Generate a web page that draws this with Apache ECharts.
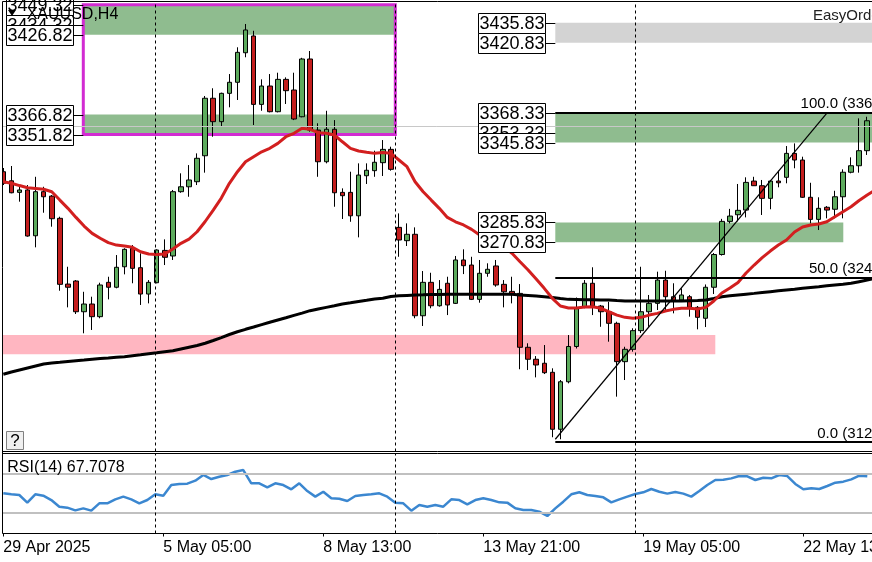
<!DOCTYPE html>
<html><head><meta charset="utf-8">
<script src="https://cdn.jsdelivr.net/npm/echarts@6/dist/echarts.min.js"></script>
<style>html,body{margin:0;padding:0;background:#fff;}#c{width:872px;height:562px;}</style>
</head><body><div id="c"></div>
<script>
// ---- data (XAUUSD H4) ----
const days = ['29 Apr','30 Apr','1 May','2 May','5 May','6 May','7 May','8 May','9 May','12 May','13 May','14 May','15 May','16 May','19 May','20 May','21 May','22 May','23 May'];
const hours = ['01:00','05:00','09:00','13:00','17:00','21:00'];
const tickIndex = [0,20,40,60,80,100];
const tickLabels = ['29 Apr 2025','5 May 05:00','8 May 13:00','13 May 21:00','19 May 05:00','22 May 13:00'];
const separators = [19,49,79];

const opens = [3323.9,3317.1,3308.4,3310.2,3275.8,3308.9,3305.6,3288.9,3239.5,3241.8,3218.7,3224.5,3215.0,3240.8,3237.1,3252.5,3266.4,3251.8,3232.0,3240.5,3264.8,3260.6,3308.9,3312.6,3316.4,3335.9,3379.1,3361.5,3382.8,3391.1,3413.3,3425.9,3374.5,3388.3,3369.0,3393.3,3385.3,3365.2,3408.6,3355.2,3331.4,3355.8,3308.4,3308.4,3290.8,3320.9,3324.7,3330.7,3340.7,3282.1,3272.1,3276.9,3215.7,3240.8,3223.2,3240.1,3225.0,3257.6,3253.8,3228.0,3247.6,3253.1,3239.3,3234.0,3232.5,3192.0,3183.0,3180.0,3173.2,3130.4,3166.1,3192.6,3221.9,3240.1,3223.0,3218.7,3210.0,3181.2,3190.5,3204.5,3218.7,3225.0,3242.5,3230.0,3227.5,3230.0,3222.0,3213.8,3237.1,3261.7,3286.6,3291.6,3295.1,3316.9,3313.4,3303.9,3316.9,3319.7,3337.7,3332.7,3304.7,3288.1,3297.2,3295.7,3305.1,3323.5,3328.4,3339.7,3362.2];
const highs = [3326.7,3328.2,3312.6,3313.9,3320.1,3312.6,3306.4,3290.1,3252.5,3242.5,3233.7,3230.0,3240.5,3245.0,3261.3,3266.4,3268.8,3262.6,3242.5,3265.6,3273.1,3310.2,3322.7,3328.9,3337.7,3380.8,3386.6,3383.3,3397.3,3417.4,3434.9,3429.8,3393.3,3397.3,3398.3,3394.8,3398.3,3409.5,3414.6,3360.3,3369.7,3362.7,3311.4,3323.9,3330.2,3330.2,3339.7,3347.7,3342.7,3292.6,3285.1,3282.1,3249.3,3248.0,3242.5,3245.0,3260.6,3265.6,3260.0,3257.6,3255.1,3257.6,3242.5,3245.0,3239.5,3195.0,3185.4,3193.7,3176.2,3167.4,3201.2,3229.4,3242.5,3252.1,3223.8,3226.2,3211.2,3192.4,3206.3,3252.5,3231.3,3248.8,3249.5,3240.1,3236.3,3231.3,3223.0,3239.2,3262.8,3288.5,3296.0,3314.7,3319.7,3320.1,3317.7,3317.7,3324.7,3343.2,3345.2,3335.2,3315.6,3304.7,3298.1,3309.6,3325.7,3334.7,3364.0,3365.2,3365.8];
const lows = [3313.9,3307.7,3301.4,3275.1,3267.1,3293.1,3282.6,3234.5,3222.0,3217.0,3202.5,3205.0,3213.8,3228.0,3236.3,3246.8,3240.1,3223.8,3225.0,3240.1,3253.8,3257.6,3308.1,3305.1,3313.9,3323.2,3350.2,3358.2,3372.3,3377.8,3409.9,3359.0,3369.7,3368.5,3368.5,3374.8,3362.7,3364.8,3354.0,3320.1,3330.2,3297.6,3288.4,3286.3,3274.6,3314.7,3320.1,3320.7,3324.7,3260.0,3268.1,3213.8,3208.0,3221.3,3222.5,3216.2,3224.5,3247.0,3227.5,3225.5,3245.0,3237.5,3222.0,3225.0,3175.5,3174.9,3169.4,3171.9,3124.4,3122.9,3164.9,3191.1,3221.3,3216.2,3207.4,3196.2,3154.9,3167.4,3188.7,3202.7,3207.4,3220.0,3220.0,3217.5,3226.2,3215.0,3205.5,3207.2,3232.0,3260.9,3285.1,3286.6,3289.6,3313.2,3291.4,3295.7,3312.2,3315.2,3326.5,3304.2,3285.1,3280.1,3288.9,3288.9,3288.9,3322.7,3323.2,3336.5,3355.8];
const closes = [3315.2,3308.1,3310.2,3275.6,3308.9,3305.1,3288.6,3239.3,3237.1,3218.7,3224.5,3215.0,3238.8,3237.1,3252.1,3265.6,3251.3,3232.0,3240.8,3265.1,3259.6,3308.9,3312.6,3317.7,3334.0,3379.1,3361.5,3382.8,3391.1,3413.6,3430.4,3374.5,3388.3,3369.0,3393.3,3384.8,3363.5,3408.6,3355.2,3331.4,3355.8,3308.1,3305.9,3290.8,3321.4,3325.0,3331.0,3340.7,3325.7,3272.6,3276.9,3215.7,3240.8,3223.2,3235.5,3223.8,3257.6,3253.3,3228.0,3247.6,3250.6,3238.8,3233.7,3231.5,3192.0,3183.0,3178.7,3172.9,3130.4,3166.1,3192.6,3221.1,3240.1,3223.0,3218.7,3210.0,3181.2,3190.5,3204.5,3218.7,3225.0,3242.5,3230.0,3227.0,3231.3,3222.0,3214.5,3237.1,3261.7,3286.6,3290.6,3294.9,3315.9,3313.4,3303.9,3316.9,3315.6,3337.7,3332.7,3304.7,3288.1,3296.4,3295.1,3305.1,3323.5,3328.4,3339.7,3362.2,3357.7];
const maFast = [3316.4,3315.2,3313.5,3311.9,3311.3,3310.7,3308.9,3302.6,3296.4,3289.6,3283.1,3277.6,3273.9,3270.6,3268.8,3268.1,3267.1,3263.8,3262.1,3261.8,3262.1,3265.8,3270.1,3273.3,3278.8,3286.5,3295.1,3304.1,3315.2,3323.9,3331.4,3335.2,3338.9,3341.5,3345.2,3350.2,3352.8,3356.5,3355.8,3353.2,3352.8,3351.5,3346.4,3341.5,3339.5,3338.5,3337.7,3338.3,3337.7,3332.7,3327.7,3316.4,3308.9,3302.6,3296.4,3289.6,3286.3,3283.9,3280.6,3276.3,3272.6,3270.1,3267.6,3262.6,3256.3,3250.1,3243.3,3236.3,3228.8,3223.0,3221.5,3221.5,3222.3,3222.5,3221.3,3218.7,3216.2,3214.5,3213.8,3214.5,3216.2,3217.5,3219.3,3220.5,3221.3,3221.3,3220.8,3222.0,3226.8,3232.8,3236.5,3240.7,3247.8,3253.8,3259.4,3264.3,3268.8,3272.6,3278.6,3282.4,3283.9,3284.6,3286.3,3290.1,3293.9,3297.6,3302.3,3306.4,3310.2];
const maSlow = [3171.7,3173.4,3174.9,3176.4,3177.9,3179.4,3180.2,3180.7,3181.3,3181.9,3182.4,3183.0,3183.5,3183.9,3184.5,3184.9,3185.7,3186.4,3187.2,3187.9,3188.7,3189.4,3190.7,3192.0,3193.3,3195.0,3197.1,3199.3,3201.6,3203.7,3205.5,3207.2,3209.0,3210.8,3212.5,3214.2,3216.0,3217.7,3219.5,3220.8,3222.0,3223.2,3224.5,3225.4,3226.4,3227.3,3228.3,3228.8,3230.1,3230.7,3231.0,3231.3,3231.4,3231.6,3231.6,3231.8,3231.8,3231.8,3231.8,3231.8,3231.8,3231.8,3231.8,3231.8,3231.3,3230.9,3230.5,3230.0,3229.4,3228.6,3228.0,3227.9,3227.7,3227.7,3227.5,3227.5,3227.1,3226.8,3226.8,3226.8,3226.8,3226.8,3226.8,3226.8,3226.8,3227.0,3227.2,3227.5,3228.6,3230.0,3230.7,3231.3,3231.9,3232.5,3233.2,3233.8,3234.4,3235.0,3235.6,3236.3,3236.9,3237.5,3238.2,3238.8,3239.4,3240.1,3241.3,3242.5,3243.8];
const rsi = [50.0,49.0,48.3,40.4,49.0,47.6,43.1,36.2,35.2,32.4,34.5,32.1,39.7,39.7,43.8,46.6,43.8,39.7,43.1,49.0,47.6,58.6,59.7,60.0,63.1,69.0,64.8,67.2,69.0,72.4,74.1,60.4,60.4,56.2,60.4,58.6,54.2,60.4,52.4,46.6,51.7,44.9,44.5,42.1,47.3,48.3,49.0,50.0,46.6,40.4,39.7,32.1,38.0,36.2,38.0,36.2,43.8,43.1,38.7,43.1,44.9,43.1,40.7,40.4,34.5,32.8,32.8,31.1,26.6,34.5,41.4,49.0,51.1,48.3,47.3,45.9,40.7,43.8,46.6,49.3,51.1,54.5,51.7,49.7,51.4,49.7,46.6,52.4,58.6,63.8,64.1,65.5,67.9,67.6,63.8,66.2,65.5,69.0,67.9,59.7,54.2,55.2,54.5,57.6,61.0,62.1,64.5,68.3,67.7];
const rsiLevels = [70, 30];
const rsiText = 'RSI(14) 67.7078';
const bidPrice = 3357.7;

// zones: [top, bottom, fromBar, toBar]
const leftZones = [[3449.32,3426.82,10,49],[3366.82,3351.82,10,49]];
const rightGreenZones = [[3368.33,3345.83,69,109.5],[3285.83,3270.83,69,105]];
const grayZones = [[3435.83,3420.83,69,109.5]];
const pinkZones = [[3201.2,3186.7,-0.5,89]];
const boxRect = [3449.32,3351.82,10,49];
const leftLabels = [3449.32,3434.32,3426.82,3366.82,3351.82];
const rightLabels = [3435.83,3420.83,3368.33,3353.33,3345.83,3285.83,3270.83];
// fibonacci: level, price
const fibStart = 69, fibTextBar = 112.9;
const fibLevels = [[100.0,3368.33],[50.0,3244.56],[0.0,3120.78]];
const trendLine = [[69,3122.9],[103,3368.33]];

// categories
const categories = ['29 Apr 21:00'];
for (let d = 1; d < days.length && categories.length < 110; d++)
  for (let h = 0; h < hours.length && categories.length < 110; h++) categories.push(days[d] + ' ' + hours[h]);

const FONT = '"Liberation Sans", Arial, sans-serif';
const GREEN = '#8fbc8f', GRAY = '#d3d3d3', PINK = '#ffb6c1', MAG = '#d22bd2';

function zoneItems(list, color) {
  return list.map(z => [{coord:[z[2], z[0]], itemStyle:{color:color}}, {coord:[z[3], z[1]]}]);
}
const zoneData = [].concat(zoneItems(pinkZones, PINK), zoneItems(leftZones, GREEN), zoneItems(rightGreenZones, GREEN), zoneItems(grayZones, GRAY),
  [[{coord:[boxRect[2], boxRect[0]], itemStyle:{color:'rgba(0,0,0,0)', borderColor:MAG, borderWidth:3}}, {coord:[boxRect[3], boxRect[1]]}]]);

const fibLines = fibLevels.map(f => [{coord:[fibStart, f[1]]}, {coord:[109.5, f[1]]}]);
fibLines.push([{coord:trendLine[0], lineStyle:{width:1.2}}, {coord:trendLine[1]}]);

const sepLines = separators.map(s => ({xAxis: s}));

const option = {
  animation: false,
  backgroundColor: '#fff',
  grid: [
    {left: -0.7, top: 1.5, width: 880, height: 450, show: false, containLabel: false, outerBoundsMode: 'none'},
    {left: -0.7, top: 453.5, width: 880, height: 80, show: false, containLabel: false, outerBoundsMode: 'none'}
  ],
  xAxis: [
    {type:'category', gridIndex:0, data:categories, boundaryGap:true, show:false},
    {type:'value', gridIndex:0, min:-0.5, max:109.5, show:false},
    {type:'value', gridIndex:1, min:-0.5, max:109.5, show:true, position:'bottom',
      axisLine:{show:false}, splitLine:{show:false},
      axisTick:{show:true, customValues:tickIndex, length:3, lineStyle:{color:'#000'}},
      axisLabel:{customValues:tickIndex, formatter:(v)=>tickLabels[tickIndex.indexOf(Math.round(v))] || '',
        align:'left', margin:6, fontSize:16, fontFamily:FONT, color:'#000', hideOverlap:false, showMinLabel:true, showMaxLabel:true}}
  ],
  yAxis: [
    {type:'value', gridIndex:0, min:3113.7, max:3451.8, show:false, splitLine:{show:false}},
    {type:'value', gridIndex:1, min:8.5, max:91.2, show:false, splitLine:{show:false}}
  ],
  series: [
    {type:'line', name:'zones', xAxisIndex:1, yAxisIndex:0, data:[], z:1, silent:true,
      markArea:{silent:true, label:{show:false}, data:zoneData},
      markLine:{silent:true, symbol:'none', label:{show:false},
        data:[{yAxis:bidPrice, lineStyle:{color:'#c8c8c8', width:1, type:'solid'}}].concat(
          sepLines.map(s => Object.assign({}, s, {lineStyle:{color:'#000', width:1, type:[3,3]}})))}},
    {type:'candlestick', xAxisIndex:0, yAxisIndex:0, z:3, barWidth:5,
      data: opens.map((o,i)=>[o, closes[i], lows[i], highs[i]]),
      itemStyle:{color:'#5dab5d', color0:'#c41e1e', borderColor:'#000', borderColor0:'#000', borderWidth:1}},
    {type:'line', xAxisIndex:0, yAxisIndex:0, z:4, data:maSlow, showSymbol:false, smooth:false,
      lineStyle:{color:'#000', width:3}},
    {type:'line', xAxisIndex:0, yAxisIndex:0, z:4, data:maFast, showSymbol:false, smooth:false,
      lineStyle:{color:'#d21f1f', width:3}},
    {type:'line', name:'fib', xAxisIndex:1, yAxisIndex:0, data:[], z:5, silent:true,
      markLine:{silent:true, symbol:'none', label:{show:false}, lineStyle:{color:'#000', width:2, type:'solid'}, data:fibLines}},
    {type:'line', xAxisIndex:2, yAxisIndex:1, z:3, data: rsi.map((v,i)=>[i,v]), showSymbol:false,
      lineStyle:{color:'#3b87d0', width:2.5},
      markLine:{silent:true, symbol:'none', label:{show:false},
        data: rsiLevels.map(l => ({yAxis:l, lineStyle:{color:'#c0c0c0', width:2, type:'solid'}})).concat(
          sepLines.map(s => Object.assign({}, s, {lineStyle:{color:'#000', width:1, type:[3,3]}})))}}
  ]
};

const chart = echarts.init(document.getElementById('c'));
chart.setOption(option);

const P = (x, y) => chart.convertToPixel({xAxisIndex:1, yAxisIndex:0}, [x, y]);
const g = [];
function priceLabel(anchor, price) {
  const p = P(anchor, price);
  const ax = p[0], py = Math.round(p[1]) + 0.5;
  const right = Math.round(ax - 10.5) + 0.5, w = 67, h = 20;
  g.push({type:'line', shape:{x1:right, y1:py, x2:ax, y2:py}, style:{stroke:'#000', lineWidth:1}, z:50});
  g.push({type:'rect', shape:{x:right - w, y:py - h/2, width:w, height:h}, style:{fill:'#fff', stroke:'#000', lineWidth:1}, z:50});
  g.push({type:'text', x:right - w/2, y:py + 0.5, style:{text:price.toFixed(2), font:'18px ' + FONT, fill:'#000', align:'center', verticalAlign:'middle'}, z:50});
}
leftLabels.forEach(p => priceLabel(leftZones[0][2], p));
rightLabels.forEach(p => priceLabel(rightGreenZones[0][2], p));

fibLevels.forEach(f => {
  const p = P(fibTextBar, f[1]);
  g.push({type:'text', x:p[0], y:p[1] - 1, style:{text:f[0].toFixed(1) + ' (' + f[1].toFixed(2) + ')', font:'15px ' + FONT, fill:'#000', align:'right', verticalAlign:'bottom'}, z:55});
});

// frame and decorations
g.push({type:'rect', shape:{x:0, y:0, width:2.5, height:562}, style:{fill:'#fff'}, z:60});
[[2.5,1.5,872,1.5],[2.5,451.5,872,451.5],[2.5,453.5,872,453.5],[2.5,533.5,872,533.5],[2.5,1.5,2.5,533.5]].forEach(l =>
  g.push({type:'line', shape:{x1:l[0], y1:l[1], x2:l[2], y2:l[3]}, style:{stroke:'#000', lineWidth:1}, z:61}));
g.push({type:'polygon', shape:{points:[[8,10],[16,10],[12,16]]}, style:{fill:'#000'}, z:62});
g.push({type:'text', x:26.7, y:15, style:{text:'XAUUSD,H4', font:'16px ' + FONT, fill:'#000', align:'left', verticalAlign:'middle'}, z:62});
g.push({type:'text', x:813, y:16, style:{text:'EasyOrder', font:'15px ' + FONT, fill:'#222', align:'left', verticalAlign:'middle'}, z:62});
g.push({type:'rect', shape:{x:6.5, y:431.5, width:17, height:18}, style:{fill:'#f0f0f0', stroke:'#808080', lineWidth:1}, z:62});
g.push({type:'text', x:15, y:441, style:{text:'?', font:'17px ' + FONT, fill:'#000', align:'center', verticalAlign:'middle'}, z:63});
g.push({type:'text', x:7.3, y:467.5, style:{text:rsiText, font:'16px ' + FONT, fill:'#000', align:'left', verticalAlign:'middle'}, z:62});

chart.setOption({graphic:{elements:g}});
</script>
</body></html>
